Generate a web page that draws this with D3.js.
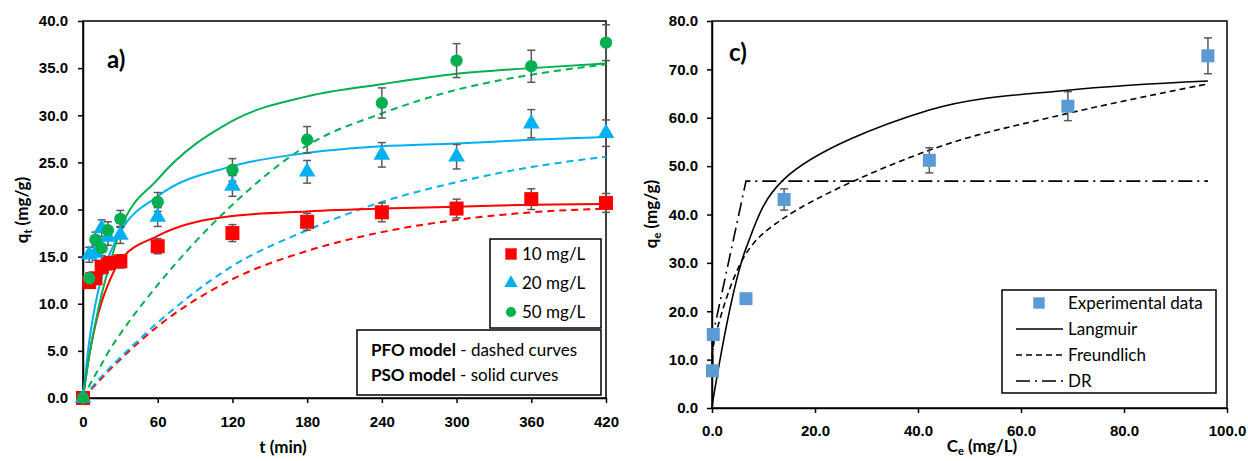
<!DOCTYPE html>
<html>
<head>
<meta charset="utf-8">
<script src="https://cdn.jsdelivr.net/npm/d3@7.9.0/dist/d3.min.js"></script>
<style>
  html, body { margin: 0; padding: 0; background: #fff; }
  svg { display: block; font-family: Lato, "Open Sans", sans-serif; }
  .tick text { font-weight: bold; font-size: 15px; fill: #000; }
  .axis path, .axis line { stroke: #000; stroke-width: 1.5; }
</style>
</head>
<body>
<svg id="chart" width="1248" height="461"></svg>
<script>
// ---- panel a) kinetics ----
const tMin = [0, 5, 10, 15, 20, 30, 60, 120, 180, 240, 300, 360, 420];
const q10 = [0, 12.3, 12.7, 13.9, 14.3, 14.5, 16.1, 17.5, 18.7, 19.7, 20.1, 21.1, 20.7];
const err10 = [0, 0.6, 0.6, 0.7, 0.7, 0.7, 0.8, 0.9, 0.9, 1.0, 1.0, 1.1, 1.0];
const q20 = [0, 15.2, 15.4, 18.0, 17.1, 17.3, 19.2, 22.5, 24.0, 25.8, 25.6, 29.1, 28.1];
const err20 = [0, 0.8, 0.8, 0.9, 0.9, 0.9, 1.0, 1.1, 1.2, 1.3, 1.3, 1.5, 1.4];
const q50 = [0, 12.7, 16.8, 15.9, 17.8, 19.0, 20.8, 24.2, 27.4, 31.3, 35.8, 35.2, 37.7];
const err50 = [0, 0.6, 0.8, 0.8, 0.9, 0.9, 1.0, 1.2, 1.4, 1.6, 1.8, 1.7, 1.9];

// model curves at the same times
const pfo10 = [0, 0.7, 1.4, 2.1, 2.8, 4.1, 7.6, 12.6, 15.6, 17.6, 18.9, 19.7, 20.1];
const pfo20 = [0, 0.8, 1.6, 2.3, 3.0, 4.3, 8.0, 14.0, 17.8, 20.8, 22.9, 24.5, 25.6];
const pfo50 = [0, 1.3, 2.5, 3.6, 4.8, 6.8, 12.0, 20.5, 26.8, 30.2, 32.7, 34.3, 35.4];
const pso10 = [0, 4.5, 7.8, 10.2, 12.0, 14.6, 17.2, 19.3, 19.8, 20.1, 20.3, 20.5, 20.6];
const pso20 = [0, 6.0, 10.0, 12.8, 14.8, 17.6, 21.4, 24.6, 26.0, 26.7, 27.0, 27.4, 27.7];
const pso50 = [0, 4.5, 8.0, 11.0, 13.5, 17.8, 23.2, 29.4, 32.0, 33.3, 34.4, 35.0, 35.5];

const xTicksA = [0, 60, 120, 180, 240, 300, 360, 420];
const yTicksA = [0, 5, 10, 15, 20, 25, 30, 35, 40];

// ---- panel c) isotherms ----
const ce = [0.1, 0.25, 6.6, 14.0, 42.2, 69.1, 96.3];
const qe = [7.7, 15.2, 22.6, 43.1, 51.2, 62.4, 72.8];
const qeErr = [0, 0, 0, 2.2, 2.6, 3.0, 3.7];
const ceModel = [0, 0.1, 0.25, 6.6, 14.0, 42.2, 69.1, 96.3];
const langmuir = [0, 0.8, 2.0, 33.0, 47.3, 61.6, 65.7, 67.6];
const freundlich = [null, 8.5, 12.8, 31.9, 39.3, 53.3, 60.9, 67.0];
const dr = [null, 8.0, 15.5, 46.9, 46.9, 46.9, 46.9, 46.9];

const xTicksC = [0, 20, 40, 60, 80, 100];
const yTicksC = [0, 10, 20, 30, 40, 50, 60, 70, 80];

const red = '#ff0000', blue = '#00b0f0', green = '#00b050';
const errColor = '#595959';

const svg = d3.select('#chart');
const fmt = d3.format('.1f');

function drawFrame(x, y, xTicks, yTicks, xFmt, padX, padY) {
  const [x0, x1] = x.range();
  const [y0, y1] = y.range();
  svg.append('rect')
    .attr('x', x0).attr('y', y1)
    .attr('width', x1 - x0).attr('height', y0 - y1)
    .attr('fill', 'none').attr('stroke', '#000').attr('stroke-width', 1.5);
  svg.append('g').attr('class', 'axis')
    .attr('transform', `translate(0,${y0})`)
    .call(d3.axisBottom(x).tickValues(xTicks).tickFormat(xFmt).tickSize(5).tickSizeOuter(0).tickPadding(padX));
  svg.append('g').attr('class', 'axis')
    .attr('transform', `translate(${x0},0)`)
    .call(d3.axisLeft(y).tickValues(yTicks).tickFormat(fmt).tickSize(5).tickSizeOuter(0).tickPadding(padY));
}

function drawLine(g, xs, ys, x, y, color, dash, curve) {
  const pts = xs.map((v, i) => [v, ys[i]]).filter(d => d[1] != null);
  g.append('path')
    .attr('d', d3.line().x(d => x(d[0])).y(d => y(d[1])).curve(curve)(pts))
    .attr('fill', 'none').attr('stroke', color).attr('stroke-width', 2)
    .attr('stroke-dasharray', dash);
}

function drawErr(g, xs, ys, es, x, y) {
  xs.forEach((v, i) => {
    if (!es[i]) return;
    const cx = x(v), top = y(ys[i] + es[i]), bot = y(ys[i] - es[i]);
    g.append('line').attr('x1', cx).attr('x2', cx).attr('y1', top).attr('y2', bot);
    g.append('line').attr('x1', cx - 4).attr('x2', cx + 4).attr('y1', top).attr('y2', top);
    g.append('line').attr('x1', cx - 4).attr('x2', cx + 4).attr('y1', bot).attr('y2', bot);
  });
  g.attr('stroke', errColor).attr('stroke-width', 1.5);
}

function drawMarks(g, xs, ys, x, y, type, size, color) {
  g.selectAll('path.m').data(xs.map((v, i) => [v, ys[i]])).join('path')
    .attr('class', 'm')
    .attr('transform', d => `translate(${x(d[0])},${y(d[1])})`)
    .attr('d', d3.symbol().type(type).size(size))
    .attr('fill', color);
}

// ===== panel a =====
const xA = d3.scaleLinear().domain([0, 420]).range([83, 606]);
const yA = d3.scaleLinear().domain([0, 40]).range([398, 21]);
drawFrame(xA, yA, xTicksA, yTicksA, d3.format('d'), 13, 10);

const gA = svg.append('g');
const curveA = d3.curveMonotoneX;
drawLine(gA, tMin, pfo10, xA, yA, red, '7,5', curveA);
drawLine(gA, tMin, pfo20, xA, yA, blue, '7,5', curveA);
drawLine(gA, tMin, pfo50, xA, yA, green, '7,5', curveA);
drawLine(gA, tMin, pso10, xA, yA, red, null, curveA);
drawLine(gA, tMin, pso20, xA, yA, blue, null, curveA);
drawLine(gA, tMin, pso50, xA, yA, green, null, curveA);

drawErr(svg.append('g'), tMin, q10, err10, xA, yA);
drawErr(svg.append('g'), tMin, q20, err20, xA, yA);
drawErr(svg.append('g'), tMin, q50, err50, xA, yA);
drawMarks(svg.append('g'), tMin, q10, xA, yA, d3.symbolSquare, 196, red);
drawMarks(svg.append('g'), tMin, q20, xA, yA, d3.symbolTriangle, 120, blue);
drawMarks(svg.append('g'), tMin, q50, xA, yA, d3.symbolCircle, 120, green);

svg.append('text').attr('x', 107).attr('y', 68)
  .attr('font-size', 24).attr('font-weight', 'bold').text('a)');

// y label
const ylA = svg.append('text').attr('transform', 'translate(28,210) rotate(-90)')
  .attr('text-anchor', 'middle').attr('font-size', 17).attr('font-weight', 'bold');
ylA.append('tspan').text('q');
ylA.append('tspan').attr('font-size', 11).attr('dy', 4).text('t');
ylA.append('tspan').attr('dy', -4).text(' (mg/g)');
svg.append('text').attr('x', 283).attr('y', 453).attr('text-anchor', 'middle')
  .attr('font-size', 17).attr('font-weight', 'bold').text('t (min)');

// legend boxes for a
const legA = svg.append('g');
legA.append('rect').attr('x', 490).attr('y', 239).attr('width', 111).attr('height', 89)
  .attr('fill', '#fff').attr('stroke', '#000').attr('stroke-width', 1.5);
const legItems = [
  { label: '10 mg/L', type: d3.symbolSquare, size: 130, color: red },
  { label: '20 mg/L', type: d3.symbolTriangle, size: 80, color: blue },
  { label: '50 mg/L', type: d3.symbolCircle, size: 80, color: green },
];
legItems.forEach((d, i) => {
  const cy = 254 + i * 29;
  legA.append('path').attr('transform', `translate(511,${cy})`)
    .attr('d', d3.symbol().type(d.type).size(d.size)).attr('fill', d.color);
  legA.append('text').attr('x', 522).attr('y', cy + 6).attr('font-size', 17).text(d.label);
});
legA.append('rect').attr('x', 357).attr('y', 330).attr('width', 244).attr('height', 65)
  .attr('fill', '#fff').attr('stroke', '#000').attr('stroke-width', 1.5);
[['PFO model', ' - dashed curves'], ['PSO model', ' - solid curves']].forEach((d, i) => {
  const t = legA.append('text').attr('x', 371).attr('y', 356 + i * 25).attr('font-size', 17);
  t.append('tspan').attr('font-weight', 'bold').text(d[0]);
  t.append('tspan').text(d[1]);
});

// ===== panel c =====
const xC = d3.scaleLinear().domain([0, 100]).range([712, 1227]);
const yC = d3.scaleLinear().domain([0, 80]).range([408, 21]);
drawFrame(xC, yC, xTicksC, yTicksC, fmt, 12, 9);

const gC = svg.append('g');
const curveC = d3.curveCatmullRom.alpha(0.5);
drawLine(gC, ceModel, langmuir, xC, yC, '#000', null, curveC);
drawLine(gC, ceModel, freundlich, xC, yC, '#000', '6,4', curveC);
drawLine(gC, ceModel, dr, xC, yC, '#000', '14,5,2,5', d3.curveLinear);
gC.selectAll('path').attr('stroke-width', 1.6);

drawErr(svg.append('g'), ce, qe, qeErr, xC, yC);
drawMarks(svg.append('g'), ce, qe, xC, yC, d3.symbolSquare, 169, '#5b9bd5');

svg.append('text').attr('x', 729).attr('y', 61)
  .attr('font-size', 24).attr('font-weight', 'bold').text('c)');
const ylC = svg.append('text').attr('transform', 'translate(657,214) rotate(-90)')
  .attr('text-anchor', 'middle').attr('font-size', 17).attr('font-weight', 'bold');
ylC.append('tspan').text('q');
ylC.append('tspan').attr('font-size', 11).attr('dy', 4).text('e');
ylC.append('tspan').attr('dy', -4).text(' (mg/g)');
const xlC = svg.append('text').attr('x', 982).attr('y', 452).attr('text-anchor', 'middle')
  .attr('font-size', 17).attr('font-weight', 'bold');
xlC.append('tspan').text('C');
xlC.append('tspan').attr('font-size', 11).attr('dy', 3).text('e');
xlC.append('tspan').attr('dy', -3).text(' (mg/L)');

const legC = svg.append('g');
legC.append('rect').attr('x', 1002).attr('y', 290).attr('width', 214).attr('height', 103)
  .attr('fill', '#fff').attr('stroke', '#000').attr('stroke-width', 1.5);
legC.append('path').attr('transform', 'translate(1039,303)')
  .attr('d', d3.symbol().type(d3.symbolSquare).size(130)).attr('fill', '#5b9bd5');
const legCItems = [
  { label: 'Experimental data', dash: null, line: false },
  { label: 'Langmuir', dash: null, line: true },
  { label: 'Freundlich', dash: '6,4', line: true },
  { label: 'DR', dash: '14,5,2,5', line: true },
];
legCItems.forEach((d, i) => {
  const cy = 303 + i * 26;
  if (d.line) {
    legC.append('line').attr('x1', 1016).attr('x2', 1063).attr('y1', cy).attr('y2', cy)
      .attr('stroke', '#000').attr('stroke-width', 1.6).attr('stroke-dasharray', d.dash);
  }
  legC.append('text').attr('x', 1068).attr('y', cy + 6).attr('font-size', 17).text(d.label);
});
</script>
</body>
</html>
